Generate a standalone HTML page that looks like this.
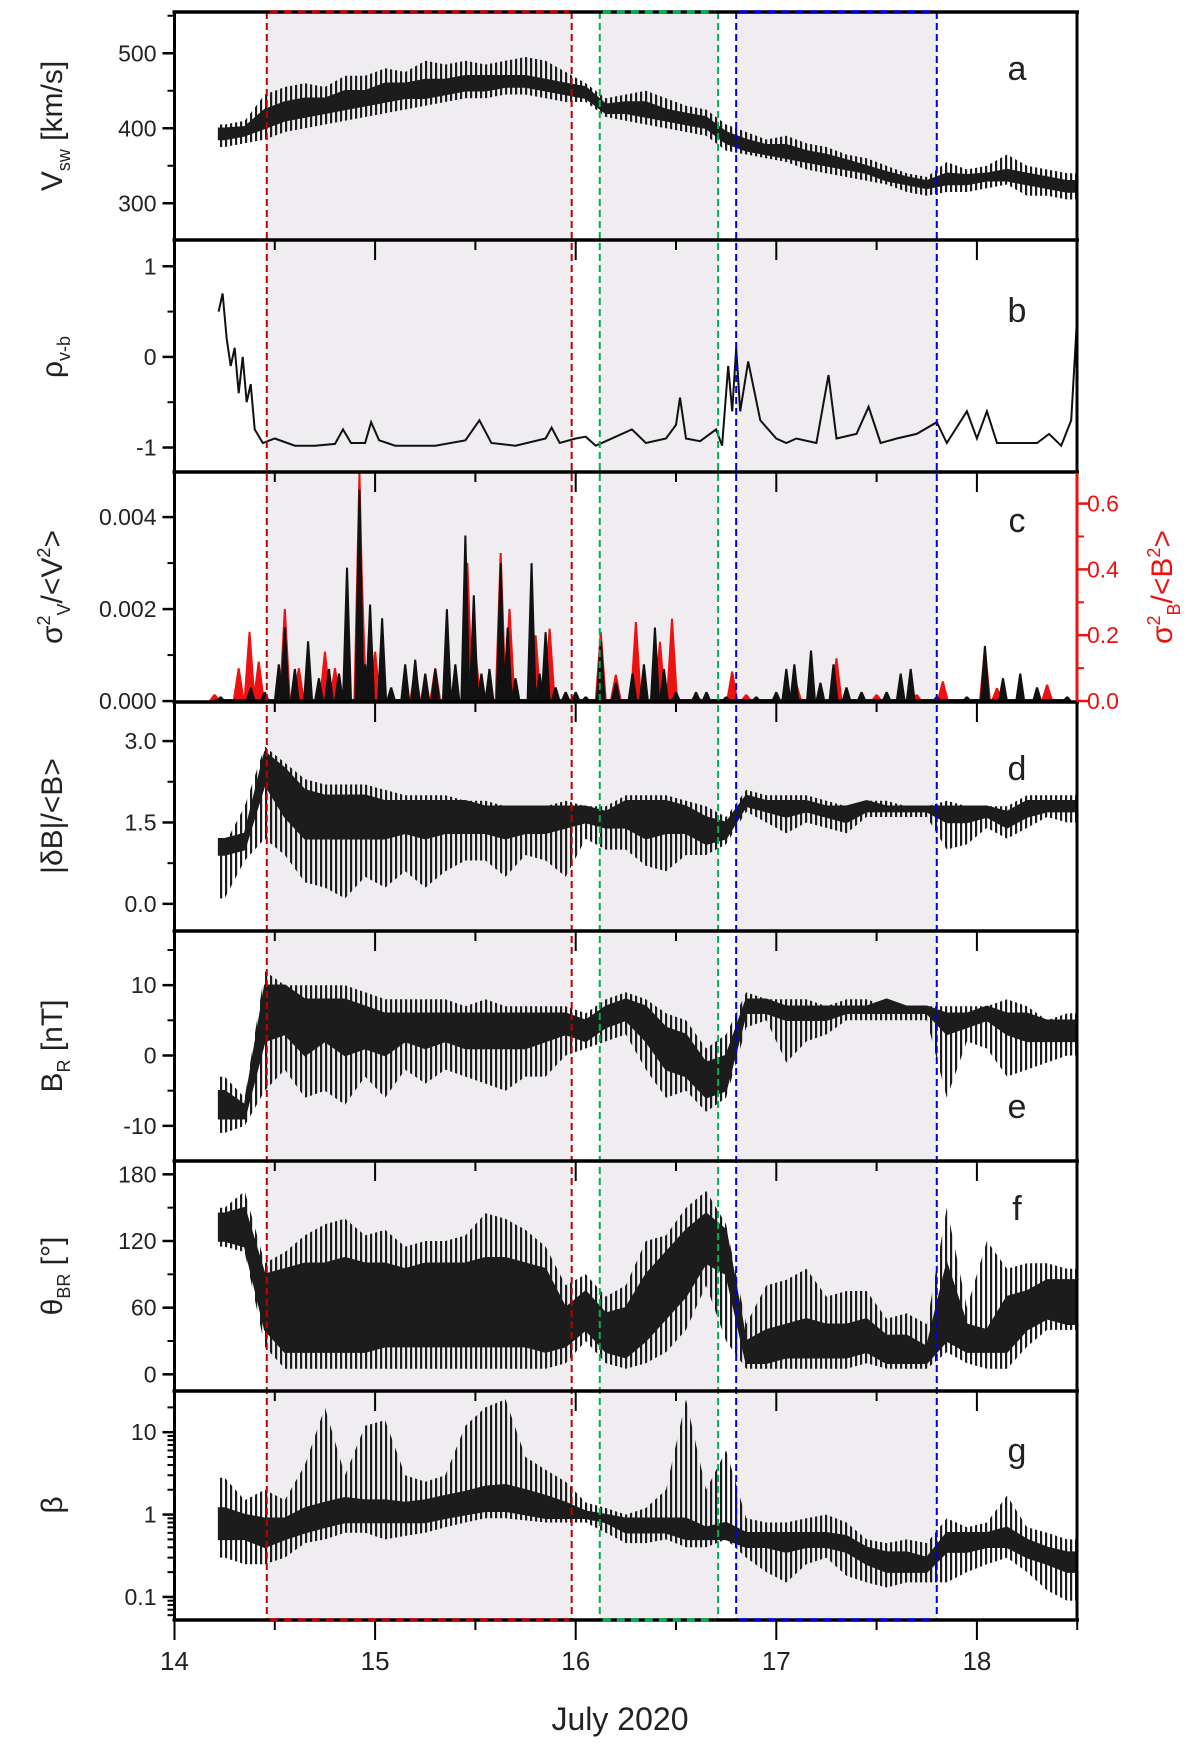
<!DOCTYPE html>
<html><head><meta charset="utf-8"><style>
html,body{margin:0;padding:0;background:#fff;}
svg{display:block;font-family:"Liberation Sans",Arial,sans-serif;}
</style></head><body>
<svg id="chart" width="1200" height="1748" viewBox="0 0 1200 1748" xmlns="http://www.w3.org/2000/svg">
<defs>
<pattern id="hatch" patternUnits="userSpaceOnUse" width="5" height="10"><rect x="0" y="0" width="2.2" height="10" fill="#1c1c1c"/></pattern>
</defs>
</svg>
<script>
// ---------- data ----------
const binTimes=[14.25,14.35,14.45,14.55,14.65,14.75,14.85,14.95,15.05,15.15,15.25,15.35,15.45,15.55,15.65,15.75,15.85,15.95,16.05,16.15,16.25,16.35,16.45,16.55,16.65,16.75,16.85,16.95,17.05,17.15,17.25,17.35,17.45,17.55,17.65,17.75,17.85,17.95,18.05,18.15,18.25,18.35,18.45];
const vswLo=[375,380,385,395,400,405,410,415,420,425,430,435,440,440,445,445,440,435,435,415,410,405,400,395,390,370,365,360,355,345,340,335,330,325,315,310,315,315,320,325,310,310,305];
const vswHi=[405,410,445,455,460,455,470,470,480,475,490,485,490,485,490,495,490,475,460,440,445,450,440,430,425,405,395,385,390,380,375,365,360,350,340,335,355,345,350,365,350,345,340];
const vswCoreLo=[385,390,400,410,415,420,425,430,435,440,440,445,450,450,455,455,450,445,440,420,420,415,410,405,400,380,370,365,360,355,350,345,340,330,325,320,325,325,330,330,325,320,315];
const vswCoreHi=[400,402,425,435,440,440,450,450,460,460,465,465,470,470,470,470,465,460,455,432,435,435,425,420,415,395,385,378,378,370,365,358,350,342,335,330,340,338,340,345,340,335,330];
const rhoTimes=[14.22,14.24,14.26,14.28,14.30,14.32,14.34,14.36,14.38,14.40,14.44,14.5,14.6,14.7,14.8,14.84,14.88,14.95,14.98,15.02,15.1,15.3,15.45,15.52,15.58,15.7,15.85,15.88,15.92,16.0,16.05,16.1,16.2,16.28,16.35,16.45,16.5,16.52,16.55,16.62,16.7,16.73,16.76,16.78,16.8,16.82,16.86,16.92,17.0,17.05,17.1,17.2,17.26,17.3,17.4,17.46,17.52,17.6,17.7,17.8,17.85,17.95,18.0,18.05,18.1,18.3,18.36,18.42,18.47,18.5];
const rhoVals=[0.5,0.7,0.2,-0.1,0.1,-0.4,0.0,-0.5,-0.3,-0.8,-0.95,-0.9,-0.98,-0.98,-0.96,-0.8,-0.95,-0.95,-0.72,-0.92,-0.98,-0.98,-0.92,-0.7,-0.95,-0.98,-0.9,-0.78,-0.95,-0.9,-0.88,-0.98,-0.88,-0.8,-0.95,-0.9,-0.75,-0.45,-0.9,-0.93,-0.8,-0.98,-0.1,-0.6,0.1,-0.6,-0.05,-0.7,-0.9,-0.95,-0.9,-0.95,-0.2,-0.9,-0.85,-0.55,-0.95,-0.9,-0.85,-0.72,-0.95,-0.6,-0.9,-0.6,-0.95,-0.95,-0.85,-0.98,-0.7,0.45];
const sigVTimes=[14.23,14.38,14.45,14.52,14.55,14.6,14.666,14.72,14.77,14.82,14.86,14.922,14.95,14.975,15.035,15.08,15.15,15.2,15.25,15.3,15.358,15.4,15.45,15.492,15.53,15.57,15.626,15.661,15.7,15.78,15.82,15.85,15.9,15.95,16.0,16.05,16.125,16.2,16.283,16.34,16.395,16.44,16.5,16.6,16.652,16.75,16.9,17.0,17.05,17.09,17.173,17.22,17.285,17.35,17.425,17.55,17.62,17.67,17.8,17.95,18.04,18.13,18.216,18.3,18.45];
const sigVVals=[0.0001,0.0003,0.0002,0.0008,0.0016,0.0007,0.0013,0.0005,0.0007,0.0006,0.0029,0.0046,0.0008,0.0021,0.0018,0.0003,0.0008,0.0009,0.0006,0.0007,0.002,0.0008,0.0036,0.0023,0.0006,0.0007,0.003,0.0016,0.0005,0.003,0.0006,0.0015,0.0003,0.0002,0.0002,0.0001,0.0013,0.0004,0.0006,0.0008,0.0016,0.0007,0.0002,0.0002,0.0002,0.0001,0.0001,0.0002,0.0007,0.0008,0.0011,0.0004,0.0008,0.0003,0.0002,0.0002,0.0006,0.0007,0.0001,0.0001,0.0012,0.0005,0.0006,0.0003,0.0001];
const sigBTimes=[14.2,14.32,14.374,14.42,14.55,14.62,14.75,14.8,14.922,14.93,15.0,15.2,15.3,15.46,15.5,15.626,15.67,15.8,15.87,16.125,16.2,16.3,16.42,16.48,16.6,16.78,16.85,17.1,17.3,17.5,17.7,17.83,18.04,18.1,18.35];
const sigBVals=[0.02,0.1,0.21,0.12,0.28,0.1,0.15,0.1,0.7,0.44,0.15,0.1,0.1,0.42,0.15,0.45,0.28,0.2,0.22,0.21,0.08,0.24,0.18,0.25,0.02,0.09,0.02,0.05,0.13,0.02,0.02,0.06,0.16,0.04,0.05];
const dbLo=[0.1,0.8,1.2,0.9,0.4,0.3,0.1,0.5,0.3,0.6,0.3,0.6,0.8,0.8,0.5,0.9,0.8,0.5,1.2,1.0,1.0,0.7,0.6,0.9,0.9,1.1,1.7,1.5,1.3,1.5,1.4,1.3,1.6,1.6,1.6,1.6,1.0,1.1,1.4,1.2,1.4,1.6,1.5];
const dbHi=[1.1,1.8,2.9,2.6,2.3,2.2,2.2,2.2,2.1,2.0,2.0,2.0,1.9,1.9,1.8,1.8,1.8,1.9,1.8,1.8,2.0,2.0,2.0,1.9,1.8,1.6,2.1,2.0,2.0,2.0,1.9,1.8,1.9,1.9,1.8,1.8,1.9,1.8,1.8,1.8,2.0,2.0,2.0];
const dbCoreLo=[0.9,1.0,2.2,1.6,1.2,1.2,1.2,1.2,1.2,1.3,1.2,1.3,1.3,1.3,1.2,1.3,1.3,1.4,1.5,1.4,1.4,1.2,1.3,1.3,1.1,1.2,1.8,1.7,1.6,1.7,1.6,1.5,1.7,1.7,1.7,1.7,1.5,1.5,1.6,1.4,1.6,1.7,1.7];
const dbCoreHi=[1.2,1.3,2.8,2.5,2.1,2.0,2.0,2.0,1.9,1.9,1.9,1.9,1.9,1.8,1.8,1.8,1.8,1.8,1.8,1.7,1.9,1.9,1.9,1.8,1.6,1.5,2.0,1.9,1.9,1.9,1.8,1.8,1.9,1.8,1.8,1.8,1.8,1.8,1.8,1.7,1.9,1.9,1.9];
const brLo=[-11,-10,-5,-2,-6,-5,-7,-3,-6,-2,-4,-2,-3,-4,-5,-3,-3,0,1,2,3,-2,-6,-5,-8,-6,4,5,-1,2,3,5,5,5,5,5,-6,2,1,-3,-2,-1,0];
const brHi=[-3,-6,12,10,10,10,10,9,8,8,8,8,7,8,7,7,7,7,6,8,9,8,6,5,1,3,9,8,8,8,7,8,8,7,7,7,7,7,7,8,7,5,6];
const brCoreLo=[-9,-9,2,3,0,2,0,1,0,2,1,2,1,1,1,1,2,3,2,4,5,2,-2,-3,-6,-5,6,6,5,5,5,6,6,6,6,6,3,4,5,3,2,2,2];
const brCoreHi=[-5,-7,10,10,8,8,8,7,6,6,6,6,6,6,6,6,6,6,5,7,8,7,4,3,-1,0,8,8,7,7,7,7,7,8,7,7,6,6,7,6,6,5,5];
const thLo=[115,110,25,5,5,5,5,5,5,5,5,5,5,5,5,5,5,10,30,10,5,10,20,40,80,30,5,5,5,5,5,5,10,5,5,5,20,10,5,5,25,40,40];
const thHi=[150,165,100,110,125,135,140,125,130,115,120,120,125,145,140,130,115,80,90,70,80,120,125,150,165,135,45,80,85,95,70,75,75,50,55,45,150,60,120,95,100,100,95];
const thCoreLo=[120,115,40,20,20,20,20,20,25,25,25,25,25,25,25,25,20,25,40,20,15,30,50,70,100,90,10,10,15,15,15,15,20,10,10,10,30,20,20,20,40,50,45];
const thCoreHi=[145,150,90,95,100,100,105,100,100,95,100,100,100,105,105,100,95,60,75,55,60,90,110,130,145,130,30,40,45,50,45,45,50,35,35,25,100,45,40,70,75,85,85];
const betaLo=[0.3,0.25,0.25,0.3,0.45,0.5,0.6,0.6,0.5,0.55,0.6,0.7,0.8,0.9,0.9,0.85,0.8,0.8,0.8,0.6,0.45,0.45,0.5,0.4,0.4,0.5,0.3,0.2,0.15,0.25,0.3,0.18,0.15,0.13,0.15,0.15,0.15,0.2,0.25,0.3,0.2,0.12,0.09];
const betaHi=[2.8,1.5,2.0,1.5,4,20,3,12,14,3,2.5,3,12,20,25,5,3.5,2.5,1.4,1.2,1.0,1.2,2,25,2,6,0.9,0.8,0.8,0.9,1.0,0.8,0.5,0.45,0.5,0.45,0.9,0.7,0.8,1.7,0.7,0.6,0.5];
const betaCoreLo=[0.5,0.5,0.4,0.5,0.6,0.7,0.8,0.8,0.8,0.8,0.8,0.9,1.0,1.1,1.1,1.0,0.9,0.9,0.9,0.8,0.6,0.6,0.6,0.5,0.5,0.5,0.4,0.4,0.35,0.4,0.4,0.35,0.25,0.2,0.2,0.2,0.35,0.35,0.4,0.4,0.3,0.25,0.2];
const betaCoreHi=[1.2,1.0,0.9,0.9,1.2,1.4,1.6,1.5,1.5,1.4,1.5,1.7,1.9,2.2,2.3,2.0,1.7,1.4,1.1,1.0,0.9,0.9,0.9,0.9,0.7,0.8,0.6,0.6,0.6,0.6,0.6,0.55,0.4,0.35,0.35,0.3,0.6,0.6,0.6,0.7,0.5,0.4,0.35];
const xTicks=[14,15,16,17,18];
const regions=[[14.46,15.98,'#c00000'],[16.12,16.71,'#00b050'],[16.80,17.80,'#0000dd']];

// ---------- layout ----------
const NS='http://www.w3.org/2000/svg';
const svg=document.getElementById('chart');
const X0=174.5,XD=200.6,L=174.5,R=1077;
const xs=t=>X0+(t-14)*XD;
const panelTops=[12,240,472,702,931,1161,1391];const BOT=1620;
function el(tag,attrs,parent){const e=document.createElementNS(NS,tag);for(const k in attrs)e.setAttribute(k,attrs[k]);(parent||svg).appendChild(e);return e;}
function lin(top,bot,vTop,vBot){return v=>top+(vTop-v)/(vTop-vBot)*(bot-top);}
const P=[
 {y:lin(12,240,555,251)},
 {y:lin(240,472,1.29,-1.27)},
 {y:lin(472,702,0.00498,-0.00002)},
 {y:lin(702,931,3.72,-0.5)},
 {y:lin(931,1161,17.7,-15)},
 {y:lin(1161,1391,192,-15)},
 {y:(v=>{const f=lin(1391,1620,1.5,-1.28);return f(Math.log10(v));})}
];
const yRed=lin(472,702,0.696,-0.003);

const gShade=el('g',{});


regions.forEach(r=>{const rc=el('rect',{x:xs(r[0]),y:12,width:xs(r[1])-xs(r[0]),height:BOT-12,fill:'#efedf0'},gShade);

});

function bandPts(idx,lo,hi,startT){
 const y=P[idx].y;const top=panelTops[idx]+2;let pts=[];
 const cy=v=>Math.max(top,y(v));
 pts.push([xs(startT),cy(hi[0])]);
 binTimes.forEach((t,i)=>pts.push([xs(t),cy(hi[i])]));
 pts.push([xs(18.5),cy(hi[hi.length-1])]);
 pts.push([xs(18.5),cy(lo[lo.length-1])]);
 for(let i=binTimes.length-1;i>=0;i--)pts.push([xs(binTimes[i]),cy(lo[i])]);
 pts.push([xs(startT),cy(lo[0])]);
 return pts.map(p=>p[0].toFixed(1)+','+p[1].toFixed(1)).join(' ');
}
function band(idx,lo,hi,name,startT){
 const p=el('polygon',{points:bandPts(idx,lo,hi,startT),fill:'#1c1c1c',stroke:'#1c1c1c','stroke-width':1.5});
 
 
}
function extremes(idx,lo,hi,name,startT){
 const p=el('polygon',{points:bandPts(idx,lo,hi,startT),fill:'url(#hatch)',stroke:'none'});
 
 
}
extremes(0,vswLo,vswHi,'vsw-extremes',14.22);
band(0,vswCoreLo,vswCoreHi,'vsw-series',14.22);
{const y=P[1].y;const pl=el('polyline',{points:rhoTimes.map((t,i)=>xs(t).toFixed(1)+','+y(rhoVals[i]).toFixed(1)).join(' '),fill:'none',stroke:'#111','stroke-width':2});

}
function spikes(times,vals,yf,color,name,w){
 const g=el('g',{});
 
 
 const base=yf(0);
 times.forEach((t,i)=>{const x=xs(t);const top=Math.max(473,yf(vals[i]));
  const pg=el('polygon',{points:`${x-w},${base} ${x-1},${top} ${x+1},${top} ${x+w},${base}`,fill:color},g);
  
  });
 const bl=el('line',{x1:xs(14.2),x2:xs(18.45),y1:base-1,y2:base-1,stroke:color,'stroke-width':2},g);
 
 
}
spikes(sigBTimes,sigBVals,yRed,'#ee1111','sigma-b-series',6);
spikes(sigVTimes,sigVVals,P[2].y,'#111','sigma-v-series',5);
extremes(3,dbLo,dbHi,'db-extremes',14.22);
band(3,dbCoreLo,dbCoreHi,'db-series',14.22);
extremes(4,brLo,brHi,'br-extremes',14.22);
band(4,brCoreLo,brCoreHi,'br-series',14.22);
extremes(5,thLo,thHi,'theta-extremes',14.22);
band(5,thCoreLo,thCoreHi,'theta-br-series',14.22);
extremes(6,betaLo,betaHi,'beta-extremes',14.22);
band(6,betaCoreLo,betaCoreHi,'beta-series',14.22);

regions.forEach(r=>{[r[0],r[1]].forEach(t=>{const l=el('line',{x1:xs(t),x2:xs(t),y1:12,y2:BOT,stroke:r[2],'stroke-width':2,'stroke-dasharray':'7 4'});

});});

const F='#000';
const frame=el('g',{});


panelTops.concat([BOT]).forEach(y=>el('line',{x1:L-2,x2:R+2,y1:y,y2:y,stroke:F,'stroke-width':3.5},frame));
el('line',{x1:L,x2:L,y1:12,y2:BOT,stroke:F,'stroke-width':3},frame);
el('line',{x1:R,x2:R,y1:12,y2:BOT,stroke:F,'stroke-width':3},frame);
regions.forEach(r=>{[12,BOT].forEach(y=>{const l=el('line',{x1:xs(r[0])+3,x2:xs(r[1])-3,y1:y,y2:y,stroke:r[2],'stroke-width':3.5,'stroke-dasharray':'8 6'});

});});
for(let k=1;k<panelTops.length;k++){const y=panelTops[k];
 for(let t=14;t<=18.5;t+=0.5){const major=Number.isInteger(t);el('line',{x1:xs(t),x2:xs(t),y1:y,y2:y+(major?20:10),stroke:F,'stroke-width':2},frame);}}
for(let t=14;t<=18.5;t+=0.5){const major=Number.isInteger(t);el('line',{x1:xs(t),x2:xs(t),y1:BOT,y2:BOT+(major?20:10),stroke:F,'stroke-width':2},frame);}
xTicks.forEach(t=>{const tx=el('text',{x:xs(t),y:1670,'font-size':26,'text-anchor':'middle',fill:'#222'});tx.textContent=String(t);

});
const xt=el('text',{x:620,y:1730,'font-size':32,'text-anchor':'middle',fill:'#222'});xt.textContent='July 2020';



const yMajor=[[300,400,500],[-1,0,1],[0,0.002,0.004],[0,1.5,3.0],[-10,0,10],[0,60,120,180],[0.1,1,10]];
const yLabels=[['300','400','500'],['-1','0','1'],['0.000','0.002','0.004'],['0.0','1.5','3.0'],['-10','0','10'],['0','60','120','180'],['0.1','1','10']];
const yMinor=[[250,350,450,550],[-0.5,0.5],[0.001,0.003],[0.75,2.25],[-15,-5,5,15],[30,90,150],[0.06,0.07,0.08,0.09,0.2,0.3,0.4,0.5,0.6,0.7,0.8,0.9,2,3,4,5,6,7,8,9,20,30]];
P.forEach((p,i)=>{
 yMajor[i].forEach((v,j)=>{const y=p.y(v);el('line',{x1:L-12,x2:L,y1:y,y2:y,stroke:F,'stroke-width':2.5},frame);
  const tx=el('text',{x:L-18,y:y+8,'font-size':23,'text-anchor':'end',fill:'#222'});tx.textContent=yLabels[i][j];
  
  });
 yMinor[i].forEach(v=>{const y=p.y(v);if(y<panelTops[i]+2||y>(panelTops[i+1]||BOT)-2)return;el('line',{x1:L-7,x2:L,y1:y,y2:y,stroke:F,'stroke-width':2},frame);});
});
[0,0.2,0.4,0.6].forEach(v=>{const y=yRed(v);el('line',{x1:R,x2:R+12,y1:y,y2:y,stroke:'#ee1111','stroke-width':2.5});
 const tx=el('text',{x:R+10,y:y+8,'font-size':23,fill:'#ee1111'});tx.textContent=v.toFixed(1);
 
 });
[0.1,0.3,0.5].forEach(v=>{const y=yRed(v);el('line',{x1:R,x2:R+7,y1:y,y2:y,stroke:'#ee1111','stroke-width':2});});
el('line',{x1:R,x2:R,y1:473,y2:701,stroke:'#ee1111','stroke-width':3});

function ytitle(cy,html,name,color,x){
 const t=el('text',{x:0,y:0,'font-size':30,'text-anchor':'middle',fill:color||'#222',transform:`translate(${x||62},${cy}) rotate(-90)`});
 t.innerHTML=html;
 
 
}
ytitle(126,'V<tspan font-size="18" dy="8">sw</tspan><tspan dy="-8"> [km/s]</tspan>','y-title-vsw');
ytitle(357,'ρ<tspan font-size="18" dy="8">v-b</tspan>','y-title-rho');
ytitle(587,'σ<tspan font-size="18" dy="-12">2</tspan><tspan font-size="18" dy="20">V</tspan><tspan dy="-8">/&lt;V</tspan><tspan font-size="18" dy="-12">2</tspan><tspan dy="12">&gt;</tspan>','y-title-sigma-v');
ytitle(816,'|δB|/&lt;B&gt;','y-title-db');
ytitle(1046,'B<tspan font-size="18" dy="8">R</tspan><tspan dy="-8"> [nT]</tspan>','y-title-br');
ytitle(1276,'θ<tspan font-size="18" dy="8">BR</tspan><tspan dy="-8"> [°]</tspan>','y-title-theta');
ytitle(1505,'β','y-title-beta');
ytitle(587,'σ<tspan font-size="18" dy="-12">2</tspan><tspan font-size="18" dy="20">B</tspan><tspan dy="-8">/&lt;B</tspan><tspan font-size="18" dy="-12">2</tspan><tspan dy="12">&gt;</tspan>','y-title-sigma-b','#ee1111',1172);

[['a',80],['b',322],['c',532],['d',780],['e',1118],['f',1220],['g',1462]].forEach(p=>{
 const t=el('text',{x:1017,y:p[1],'font-size':34,'text-anchor':'middle',fill:'#222'});t.textContent=p[0];
 
 });
</script>
</body></html>
